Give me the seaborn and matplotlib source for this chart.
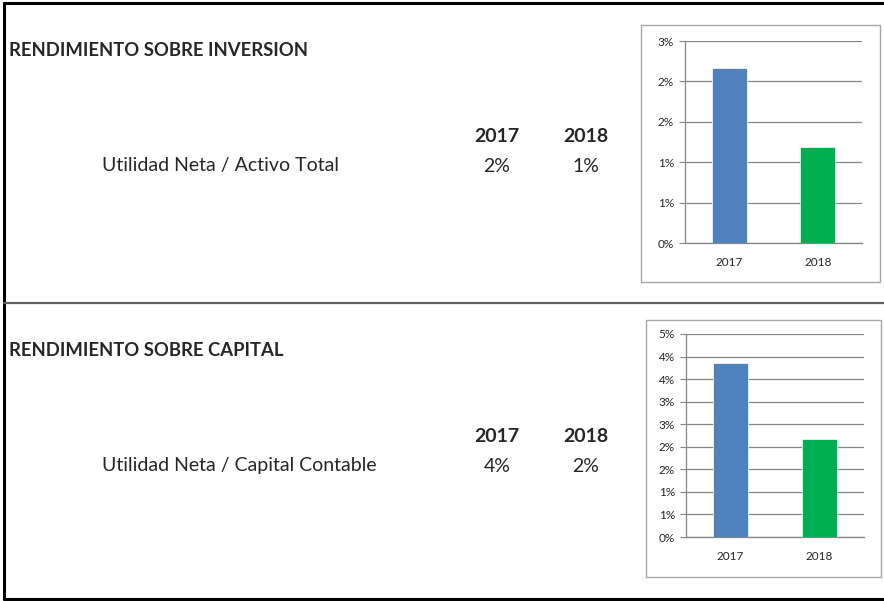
import numpy as np
import pandas as pd
import matplotlib
matplotlib.use("Agg")
import matplotlib.pyplot as plt
import seaborn as sns
from matplotlib.patches import Rectangle
from matplotlib.lines import Line2D

years = ["2017", "2018"]
bar_colors = ["#4F81BD", "#00B050"]

# rendimiento sobre inversion (% values)
inv_values = [2.17, 1.19]
inv_table = ["2%", "1%"]
inv_ticks = [0, 0.5, 1.0, 1.5, 2.0, 2.5]
inv_ticklabels = ["0%", "1%", "1%", "2%", "2%", "3%"]

# rendimiento sobre capital
cap_values = [3.86, 2.17]
cap_table = ["4%", "2%"]
cap_ticks = [0, 0.5, 1.0, 1.5, 2.0, 2.5, 3.0, 3.5, 4.0, 4.5]
cap_ticklabels = ["0%", "1%", "1%", "2%", "2%", "3%", "3%", "4%", "4%", "5%"]

sections = [
    ("RENDIMIENTO SOBRE INVERSION", "Utilidad Neta / Activo Total",
     inv_values, inv_table, inv_ticks, inv_ticklabels),
    ("RENDIMIENTO SOBRE CAPITAL", "Utilidad Neta / Capital Contable",
     cap_values, cap_table, cap_ticks, cap_ticklabels),
]

sns.set_style("white")
plt.rcParams["font.family"] = ["Lato", "DejaVu Sans"]

W, H = 884, 601
fig = plt.figure(figsize=(W / 100, H / 100), dpi=100)

def fx(px):
    return px / W

def fy(py):
    return 1 - py / H

# sheet borders
fig.add_artist(Line2D([fx(4), fx(884)], [fy(3), fy(3)], color="black", lw=2.2))
fig.add_artist(Line2D([fx(4), fx(884)], [fy(599), fy(599)], color="black", lw=2.2))
fig.add_artist(Line2D([fx(4), fx(4)], [fy(3), fy(599)], color="black", lw=2.2))
fig.add_artist(Line2D([fx(4), fx(884)], [fy(303), fy(303)], color="#606060", lw=1.6))

# layout per section: text rows, chart box, axes box (pixels)
layout = [
    dict(title_y=51, year_y=137, row_y=166,
         box=(641, 25, 880, 282), ax=(685, 41, 862, 243)),
    dict(title_y=351, year_y=437, row_y=466,
         box=(646, 320, 881, 577), ax=(686, 334, 864, 537)),
]

for (title, label, values, table, ticks, ticklabels), lay in zip(sections, layout):
    fig.text(fx(9), fy(lay["title_y"]), title, fontsize=13.3, fontweight="bold",
             va="center", ha="left")
    fig.text(fx(102), fy(lay["row_y"]), label, fontsize=14, va="center", ha="left")
    for xpos, yr, val in zip([497, 586], years, table):
        fig.text(fx(xpos), fy(lay["year_y"]), yr, fontsize=14, fontweight="bold",
                 va="center", ha="center")
        fig.text(fx(xpos), fy(lay["row_y"]), val, fontsize=14,
                 va="center", ha="center")

    x0, y0, x1, y1 = lay["box"]
    fig.add_artist(Rectangle((fx(x0), fy(y1)), fx(x1 - x0), (y1 - y0) / H,
                             fill=False, edgecolor="#A6A6A6", lw=1.0))

    a0, b0, a1, b1 = lay["ax"]
    ax = fig.add_axes([fx(a0), fy(b1), fx(a1 - a0), (b1 - b0) / H])
    df = pd.DataFrame({"year": years, "value": values})
    sns.barplot(data=df, x="year", y="value", hue="year", palette=bar_colors,
                width=0.4, legend=False, ax=ax, saturation=1)
    ax.set_xlim(-0.5, 1.5)
    ax.set_ylim(0, ticks[-1])
    ax.set_yticks(ticks)
    ax.set_yticklabels(ticklabels, fontsize=8.5)
    ax.set_xticks([0, 1])
    ax.set_xticklabels(years, fontsize=8.5)
    ax.tick_params(axis="x", length=0, pad=10)
    ax.set_xticks([-0.5, 0.5, 1.5], minor=True)
    ax.tick_params(axis="x", which="minor", length=4, direction="out",
                   color="#868686", width=0.8)
    ax.tick_params(axis="y", length=4, direction="out", color="#868686",
                   width=0.8, pad=4, left=True)
    ax.set_xlabel("")
    ax.set_ylabel("")
    ax.yaxis.grid(True, color="#868686", lw=0.9)
    ax.set_axisbelow(True)
    for s in ["top", "right"]:
        ax.spines[s].set_visible(False)
    for s in ["left", "bottom"]:
        ax.spines[s].set_color("#868686")
        ax.spines[s].set_linewidth(0.9)
    for p in ax.patches:
        p.set_edgecolor("white")
        p.set_linewidth(0.5)

fig.savefig("out.png", dpi=100)
